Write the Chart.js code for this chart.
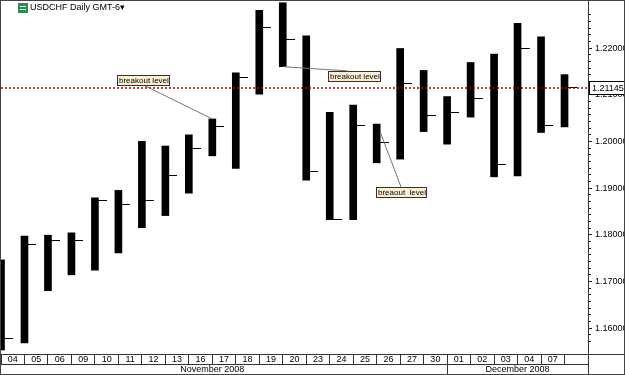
<!DOCTYPE html>
<html lang="en">
<head>
<meta charset="UTF-8" />
<title>USDCHF Daily GMT-6</title>
<script src="https://cdn.jsdelivr.net/npm/chart.js@4.4.0/dist/chart.umd.min.js"></script>
<style>
  body { margin: 0; background: #fff; }
  #wrap { width: 625px; height: 375px; }
</style>
</head>
<body>
<div id="wrap"><canvas id="myChart"></canvas></div>
<script>
// one slot per trading day, the last slot is the current (unlabelled) day
const days = ['04','05','06','09','10','11','12','13','16','17','18','19','20','23','24','25','26','27','30','01','02','03','04','07',''];
const highs  = [1.1746,1.1797,1.1799,1.1804,1.1879,1.1895,1.2000,1.1990,1.2014,1.2048,1.2147,1.2281,1.2297,1.2226,1.2062,1.2078,1.2037,1.2199,1.2152,1.2096,1.2169,1.2187,1.2253,1.2224,1.2143];
const lows   = [1.1553,1.1568,1.1680,1.1714,1.1724,1.1761,1.1815,1.1841,1.1889,1.1969,1.1942,1.2101,1.2160,1.1917,1.1832,1.1832,1.1954,1.1962,1.2021,1.1994,1.2052,1.1924,1.1926,1.2019,1.2031];
const closes = [1.1578,1.1779,1.1788,1.1788,1.1874,1.1865,1.1874,1.1927,1.1984,1.2031,1.2137,1.2244,1.2219,1.1936,1.1832,1.2034,1.1998,1.2124,1.2056,1.2061,1.2092,1.1951,1.2198,1.2034,1.21145];
const lastPrice = 1.21145;

const months = ['November 2008', 'December 2008'];
const monthMid = [9, 22];     // slot where the month name sits
const monthSplit = 19;        // first December slot

const noteText = ['breakout level', 'breakout level', 'breaout  level'];
const noteX = [4.94, 13.93, 15.97];     // box left (slot)
const noteY = [1.2142, 1.2151, 1.1902]; // box top (price)
const lineFrom = [[6.05, 1.2121], [12, lows[12]], [16.15, 1.2020]];
const lineTo   = [[9, highs[9]], [14.74, 1.2151], [17.04, 1.1902]];

const yMin = 1.15444, yMax = 1.22986;
const xMin = 0, xMax = days.length;
const minorStep = 0.01 / 7;

Chart.defaults.font.family = "'Liberation Sans', Arial, sans-serif";
Chart.defaults.font.size = 9;
Chart.defaults.color = '#000';

// close tick: short line to the right of the bar
const tick = document.createElement('canvas');
tick.width = 24; tick.height = 1;
const tctx = tick.getContext('2d');
tctx.fillStyle = '#000';
tctx.fillRect(15, 0, 9, 1);

function noPad(s) {
  s.paddingLeft = 0; s.paddingRight = 0; s.paddingTop = 0; s.paddingBottom = 0;
}
function isMajor(v) {
  return Math.abs(v * 100 - Math.round(v * 100)) < 1e-3;
}

const extras = {
  id: 'extras',
  afterDraw(chart) {
    const { ctx, chartArea: a, scales: { x, y } } = chart;
    const W = chart.width, H = chart.height;
    ctx.save();

    // notes
    ctx.font = "8px 'Liberation Sans', Arial, sans-serif";
    ctx.textBaseline = 'middle';
    ctx.strokeStyle = '#777';
    ctx.lineWidth = 1;
    for (let i = 0; i < noteText.length; i++) {
      ctx.beginPath();
      ctx.moveTo(x.getPixelForValue(lineFrom[i][0]), y.getPixelForValue(lineFrom[i][1]));
      ctx.lineTo(x.getPixelForValue(lineTo[i][0]), y.getPixelForValue(lineTo[i][1]));
      ctx.stroke();
    }
    for (let i = 0; i < noteText.length; i++) {
      const bx = Math.round(x.getPixelForValue(noteX[i])) + 0.5;
      const by = Math.round(y.getPixelForValue(noteY[i])) + 0.5;
      const w = Math.round(ctx.measureText(noteText[i]).width) + 2;
      ctx.fillStyle = '#fcefd6';
      ctx.fillRect(bx, by, w, 10);
      ctx.strokeStyle = '#333';
      ctx.strokeRect(bx, by, w, 10);
      ctx.fillStyle = '#000';
      ctx.fillText(noteText[i], bx + 1.5, by + 5.5);
    }

    // price tag on the axis
    const py = Math.round(y.getPixelForValue(lastPrice));
    ctx.fillStyle = '#fff';
    ctx.fillRect(a.right + 1.5, py - 6.5, 35, 13);
    ctx.strokeStyle = '#000';
    ctx.strokeRect(a.right + 1.5, py - 6.5, 35, 13);
    ctx.fillStyle = '#000';
    ctx.font = "9px 'Liberation Sans', Arial, sans-serif";
    ctx.fillText(lastPrice.toFixed(5), a.right + 4, py + 0.5);

    // title with icon
    ctx.fillStyle = '#2e8a52';
    ctx.fillRect(18, 3, 10, 10);
    ctx.strokeStyle = '#fff';
    ctx.beginPath();
    ctx.moveTo(20, 6.5); ctx.lineTo(26, 6.5);
    ctx.moveTo(20, 9.5); ctx.lineTo(26, 9.5);
    ctx.stroke();
    ctx.fillStyle = '#000';
    ctx.fillText('USDCHF Daily GMT-6\u25BE', 30, 8);

    // month row
    const rowTop = a.bottom + 10;
    ctx.textAlign = 'center';
    for (let i = 0; i < months.length; i++) {
      ctx.fillText(months[i], x.getPixelForValue(monthMid[i]), rowTop + 5.5);
    }
    ctx.strokeStyle = '#333';
    ctx.beginPath();
    const sx = Math.round(x.getPixelForValue(monthSplit)) + 0.5;
    ctx.moveTo(sx, rowTop); ctx.lineTo(sx, H);
    ctx.moveTo(0, rowTop + 0.5); ctx.lineTo(a.right, rowTop + 0.5);
    ctx.moveTo(0, a.bottom + 0.5); ctx.lineTo(W, a.bottom + 0.5);
    const rx = Math.round(a.right) + 0.5;
    ctx.moveTo(rx, 0); ctx.lineTo(rx, H);
    ctx.stroke();

    // frame
    ctx.strokeStyle = '#444';
    ctx.strokeRect(0.5, 0.5, W - 1, H - 1);
    ctx.restore();
  }
};

const ctx = document.getElementById('myChart').getContext('2d');
new Chart(ctx, {
  type: 'bar',
  data: {
    datasets: [
      {
        type: 'line',
        data: [{ x: xMin, y: lastPrice }, { x: xMax, y: lastPrice }],
        borderColor: '#a00000',
        borderWidth: 1.5,
        borderDash: [2, 2],
        pointRadius: 0,
        xAxisID: 'x',
        order: 0
      },
      {
        type: 'scatter',
        data: closes.map((c, i) => ({ x: i, y: c })),
        pointStyle: tick,
        pointRadius: 3,
        xAxisID: 'x',
        order: 1
      },
      {
        type: 'bar',
        data: highs.map((h, i) => ({ x: i, y: [lows[i], h] })),
        backgroundColor: '#000',
        barThickness: 7,
        xAxisID: 'x',
        order: 2
      }
    ]
  },
  options: {
    responsive: true,
    maintainAspectRatio: false,
    animation: false,
    layout: { autoPadding: false, padding: { left: 1, top: 2, right: 0, bottom: 1 } },
    plugins: { legend: { display: false }, tooltip: { enabled: false } },
    scales: {
      x: { type: 'linear', min: xMin, max: xMax, offset: false, display: false },
      xd: {
        type: 'category',
        labels: days,
        position: 'bottom',
        offset: true,
        grid: { offset: true, drawOnChartArea: false, tickLength: 10, color: '#333' },
        border: { display: true, color: '#333' },
        ticks: { autoSkip: false, maxRotation: 0, padding: -10, color: '#000' },
        afterFit: s => { s.height = 20; noPad(s); }
      },
      y: {
        position: 'right',
        min: yMin,
        max: yMax,
        grid: {
          drawOnChartArea: false,
          tickLength: 4,
          color: '#222',
          tickBorderDash: c => (c.tick && isMajor(c.tick.value)) ? [] : [2, 10]
        },
        border: { display: true, color: '#000' },
        ticks: {
          stepSize: minorStep,
          autoSkip: false,
          padding: 3,
          color: '#000',
          callback: v => isMajor(v) ? v.toFixed(5) : ''
        },
        afterBuildTicks: s => {
          s.ticks = s.ticks.filter(t => Math.abs(t.value / minorStep - Math.round(t.value / minorStep)) < 1e-3);
        },
        afterFit: s => { s.width = 37; noPad(s); }
      }
    }
  },
  plugins: [extras]
});
</script>
</body>
</html>
